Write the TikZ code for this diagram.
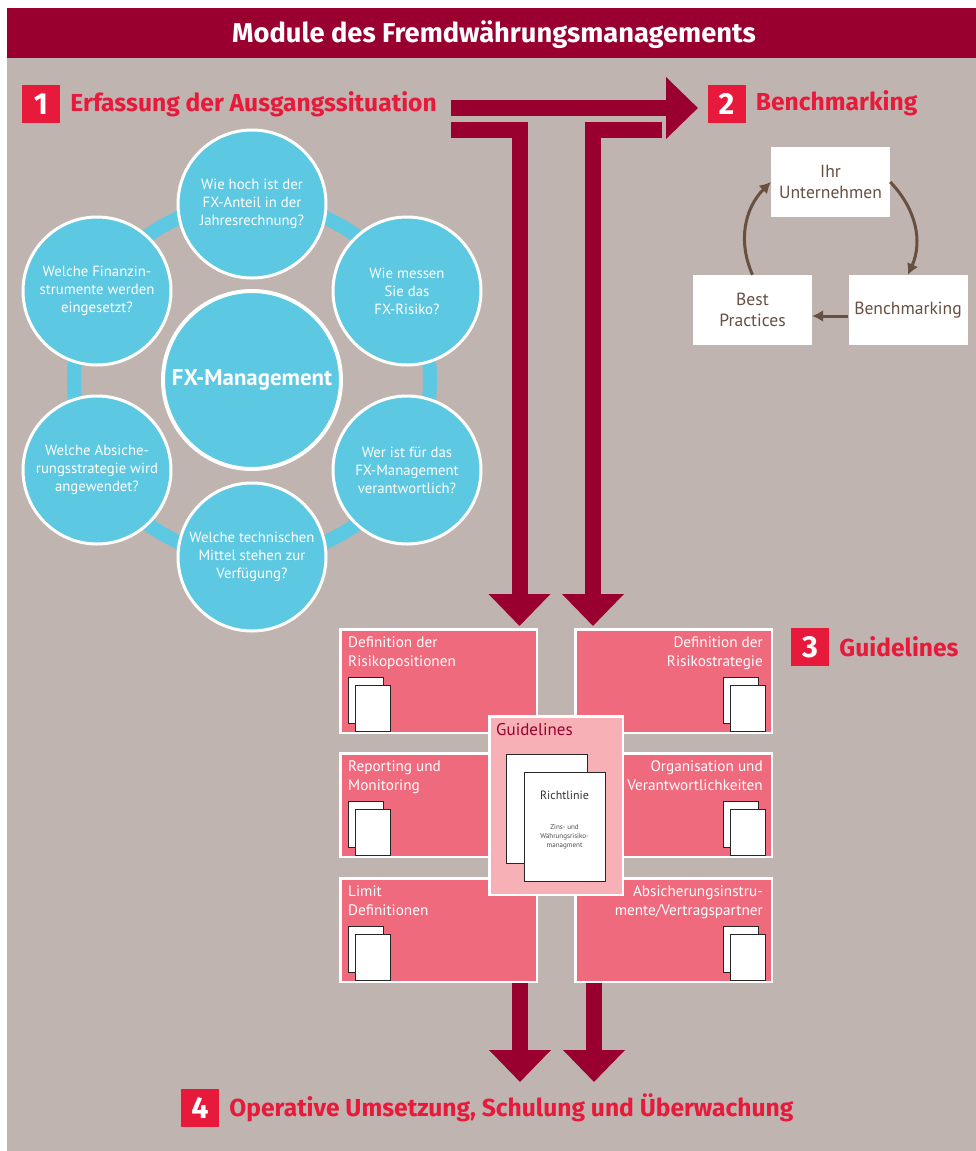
\documentclass[tikz,border=0pt]{standalone}
\usepackage{fontspec}
\setmainfont{PT Sans}
\newfontfamily\kopfschrift{Fira Sans}
\usepackage{tikz}
\usetikzlibrary{positioning,calc,arrows.meta,shapes.misc}
\definecolor{hgrau}{RGB}{191,180,175}
\definecolor{dunkelrot}{RGB}{153,0,48}
\definecolor{signalrot}{RGB}{232,26,60}
\definecolor{fxblau}{RGB}{93,200,226}
\definecolor{rosa}{RGB}{240,106,126}
\definecolor{hellrosa}{RGB}{247,176,181}
\definecolor{braun}{RGB}{104,79,64}
\tikzstyle{nummer}=[fill=signalrot,text=white,inner sep=0pt,minimum size=11.4mm,font=\kopfschrift\fontsize{26}{26}\selectfont\bfseries]
\tikzstyle{kopf}=[inner sep=0pt,text=signalrot,font=\kopfschrift\fontsize{21}{24}\selectfont\bfseries]
\tikzstyle{frage}=[circle,fill=fxblau,draw=white,line width=0.9mm,minimum size=44.4mm,inner sep=0pt,align=center,text=white,font=\fontsize{12.6}{15.4}\selectfont]
\tikzstyle{zentrum}=[frage,minimum size=53.4mm,line width=1.2mm,font=\fontsize{19.5}{22}\selectfont\bfseries]
\tikzstyle{feld}=[fill=rosa,draw=white,line width=0.75mm,minimum width=58.95mm,minimum height=31.05mm,inner sep=0pt]
\tikzstyle{feldtext}=[inner sep=0pt,text=white,font=\fontsize{13}{16.2}\selectfont]
\tikzstyle{blatt}=[chamfered rectangle,chamfered rectangle corners=north west,chamfered rectangle xsep=0.9mm,chamfered rectangle ysep=0.9mm,fill=white,draw=black!85,line width=0.3mm,minimum width=10.5mm,minimum height=13.8mm,inner sep=0pt]
\tikzstyle{stufe}=[fill=white,inner sep=0pt,minimum width=35.7mm,minimum height=21mm,text=braun,align=center,font=\fontsize{15}{18}\selectfont]
\tikzstyle{pfeil}=[draw=dunkelrot,line width=4.8mm,line join=miter,-{Triangle[length=9.6mm,width=18mm]}]
\tikzstyle{kreislauf}=[draw=braun,line width=0.9mm,-{Latex[length=3.3mm,width=3.6mm]}]
\begin{document}
\begin{tikzpicture}[x=0.3mm,y=-0.3mm]
    \useasboundingbox (0,0) rectangle (976,1151);
    \fill [hgrau] (7,8) rectangle (976,1151);
    \fill [dunkelrot] (7,8) rectangle (976,58);
    \node [inner sep=0pt,text=white,font=\kopfschrift\fontsize{23.3}{26}\selectfont\bfseries,anchor=base] (titel) at (494,42) {Module des Fremdwährungsmanagements};

    % Pfeile
    \coordinate (p1) at (451,108);
    \coordinate (p2) at (698,108);
    \coordinate (l1) at (451,130);
    \coordinate (l2) at (519.5,130);
    \coordinate (l3) at (519.5,626);
    \coordinate (r1) at (662,130);
    \coordinate (r2) at (593,130);
    \coordinate (r3) at (593,626);
    \coordinate (u1) at (520,960);
    \coordinate (u2) at (520,1082);
    \coordinate (v1) at (594,960);
    \coordinate (v2) at (594,1082);
    \draw [pfeil] (p1) -- (p2);
    \draw [pfeil] (l1) -- (l2) -- (l3);
    \draw [pfeil] (r1) -- (r2) -- (r3);
    \draw [pfeil] (u1) -- (u2);
    \draw [pfeil] (v1) -- (v2);

    % Ueberschriften
    \node [nummer] (n1) at (41,104) {1};
    \node [kopf,right=3mm of n1] (k1) {Erfassung der Ausgangssituation};
    \node [nummer] (n2) at (726.5,103.5) {2};
    \node [kopf,right=3mm of n2] (k2) {Benchmarking};
    \node [nummer] (n3) at (810,647) {3};
    \node [kopf,right=3mm of n3] (k3) {Guidelines};
    \node [nummer] (n4) at (200,1108) {4};
    \node [kopf,right=3mm of n4] (k4) {Operative Umsetzung, Schulung und Überwachung};

    % Kreise
    \coordinate (mitte) at (252,380);
    \draw [fxblau,line width=4.2mm] (mitte) circle [radius=178];
    \node [zentrum] (fx) at (mitte) {FX-Management};
    \node [frage] (q1) at (252,204) {Wie hoch ist der\\FX-Anteil in der\\Jahresrechnung?};
    \node [frage] (q2) at (407,291) {Wie messen\\Sie das\\FX-Risiko?};
    \node [frage] (q3) at (407,470) {Wer ist für das\\FX-Management\\verantwortlich?};
    \node [frage] (q4) at (252,557) {Welche technischen\\Mittel stehen zur\\Verfügung?};
    \node [frage] (q5) at (97,470) {Welche Absiche-\\rungsstrategie wird\\angewendet?};
    \node [frage] (q6) at (97,291) {Welche Finanzin-\\strumente werden\\eingesetzt?};

    % Felder
    \node [feld] (f1) at (438.5,681) {};
    \node [feld] (f2) at (673.5,681) {};
    \node [feld] (f3) at (438.5,805) {};
    \node [feld] (f4) at (673.5,805) {};
    \node [feld] (f5) at (438.5,930) {};
    \node [feld] (f6) at (673.5,930) {};
    \node [feldtext,anchor=north west,align=left] (t1) at ($(f1.north west)+(9,8)$) {Definition der\\Risikopositionen};
    \node [feldtext,anchor=north east,align=right] (t2) at ($(f2.north east)+(-10,8)$) {Definition der\\Risikostrategie};
    \node [feldtext,anchor=north west,align=left] (t3) at ($(f3.north west)+(9,8)$) {Reporting und\\Monitoring};
    \node [feldtext,anchor=north east,align=right] (t4) at ($(f4.north east)+(-10,8)$) {Organisation und\\Verantwortlichkeiten};
    \node [feldtext,anchor=north west,align=left] (t5) at ($(f5.north west)+(9,8)$) {Limit\\Definitionen};
    \node [feldtext,anchor=north east,align=right] (t6) at ($(f6.north east)+(-10,8)$) {Absicherungsinstru-\\mente/Vertragspartner};
    \foreach \f in {f1,f3,f5} {
        \node [blatt] (\f-a) at ($(\f.north west)+(26.5,72)$) {};
        \node [blatt] (\f-b) at ($(\f.north west)+(34,80)$) {};
    }
    \foreach \f in {f2,f4,f6} {
        \node [blatt] (\f-a) at ($(\f.north east)+(-32.5,72)$) {};
        \node [blatt] (\f-b) at ($(\f.north east)+(-25,80)$) {};
    }

    % Guidelines
    \node [feld,fill=hellrosa,minimum width=40.05mm,minimum height=53.55mm] (gl) at (556,805.5) {};
    \node [feldtext,text=dunkelrot,font=\fontsize{14.5}{17}\selectfont,anchor=north west] (glt) at ($(gl.north west)+(8,8)$) {Guidelines};
    \node [blatt,minimum width=24.3mm,minimum height=32.7mm,chamfered rectangle xsep=1.8mm,chamfered rectangle ysep=1.8mm] (rl1) at ($(gl.north west)+(58.5,93.5)$) {};
    \node [blatt,minimum width=24.3mm,minimum height=32.7mm,chamfered rectangle xsep=1.8mm,chamfered rectangle ysep=1.8mm] (rl2) at ($(gl.north west)+(76.5,111.5)$) {};
    \node [inner sep=0pt,text=black!80,font=\fontsize{10.2}{12}\selectfont,anchor=base] (rlt) at ($(rl2.north)+(0,28)$) {Richtlinie};
    \node [inner sep=0pt,text=black!70,align=center,font=\fontsize{6}{7.5}\selectfont] (rlk) at ($(rl2.north)+(0,65)$) {Zins- und\\Währungsrisiko-\\managment};

    % Benchmarking
    \node [stufe] (ihr) at (830.5,182) {Ihr\\Unternehmen};
    \node [stufe] (bm) at (908,310) {Benchmarking};
    \node [stufe] (bp) at (752.5,310) {Best\\Practices};
    \draw [kreislauf] (ihr.east) to [out=-46,in=66] (bm.north);
    \draw [kreislauf] ([yshift=-1.8mm]bm.west) -- ([yshift=-1.8mm]bp.east);
    \draw [kreislauf] (bp.north) to [out=114,in=225] (ihr.west);
\end{tikzpicture}
\end{document}
